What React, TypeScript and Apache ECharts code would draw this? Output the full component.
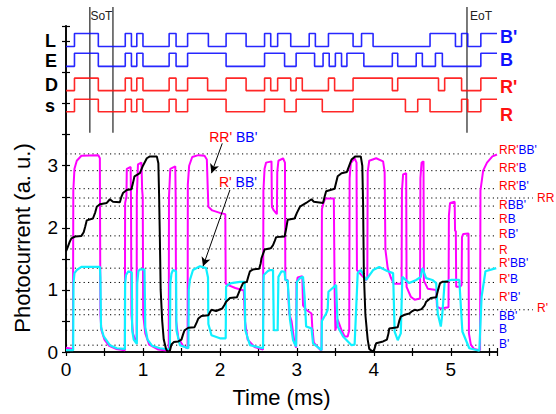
import React, { useEffect, useRef } from "react";
import * as echarts from "echarts";

const FONT = "'Liberation Sans', Arial, Helvetica, sans-serif";

const X_MIN = 0;
const X_MAX = 5.6;
const Y_MIN = 0;
const Y_MAX = 5.25;
const timeTickLabels = [0, 1, 2, 3, 4, 5];
const photoTickLabels = [0, 1, 2, 3];

// LED drive signals (top panel): toggle times in ms, each trace starts low
const ledNames = ["B'", "B", "R'", "R"];
const ledLetters = ["L", "E", "D", "s"];
const ledLow = [4.92, 4.6, 4.21, 3.87];
const ledHigh = [5.13, 4.81, 4.41, 4.07];
const ledColors = ["#1010ff", "#1010ff", "#ff1010", "#ff1010"];
const edgesBprime = [0.11, 0.42, 0.77, 0.85, 0.92, 1.0, 1.34, 1.43, 1.58, 1.85, 2.08, 2.34, 2.58, 2.66, 2.75, 2.92, 3.16, 3.24, 3.41, 3.73, 3.84, 3.99, 4.73, 5.06, 5.14, 5.22, 5.39];
const edgesB = [0.11, 0.42, 0.77, 0.85, 0.92, 1.0, 1.34, 1.43, 1.58, 2.08, 2.58, 2.84, 2.99, 3.23, 3.34, 3.42, 3.5, 3.58, 3.65, 3.87, 4.24, 4.31, 4.55, 4.63, 4.8, 4.89, 5.39];
const edgesRprime = [0.11, 0.42, 0.77, 0.85, 0.92, 1.0, 1.34, 1.43, 1.58, 1.84, 2.08, 2.34, 2.58, 2.66, 2.75, 2.92, 2.99, 3.07, 3.41, 3.49, 3.73, 4.24, 4.31, 4.84, 4.92, 5.14, 5.39];
const edgesR = [0.11, 0.42, 0.77, 0.85, 0.92, 1.0, 1.34, 1.43, 1.58, 2.08, 2.58, 2.84, 2.99, 3.33, 3.73, 4.41, 4.57, 4.73, 5.14, 5.22, 5.39];
const ledEdges = [edgesBprime, edgesB, edgesRprime, edgesR];

// start / end of transmission markers
const sotTimes = [0.31, 0.61];
const eotTimes = [5.21];

// photocurrent levels (dotted guide lines) and their names
const levelNames = ["RR'BB'", "RR'B", "RR'B'", "RR", "RBB'", "RB", "RB'", "R", "R'BB'", "R'B", "R'B'", "R'", "BB'", "B", "B'"];
const levelValues = [3.19, 2.92, 2.63, 2.48, 2.35, 2.15, 1.87, 1.66, 1.35, 1.12, 0.85, 0.68, 0.6, 0.35, 0.11];
const extendedLevels = ["RR", "R'"];

// photocurrent traces [time ms, a.u.]
const magentaTrace = [
  [0, 0.07], [0.09, 0.05], [0.095, 2.6], [0.11, 2.95], [0.14, 3.08], [0.2, 3.16], [0.42, 3.17], [0.44, 3.12], [0.447, 0.6], [0.46, 0.35], [0.5, 0.2], [0.56, 0.1], [0.65, 0.05], [0.765, 0.03],
  [0.768, 2.4], [0.785, 2.5], [0.79, 2.95], [0.84, 2.98], [0.845, 2.4], [0.85, 0.6], [0.87, 0.3], [0.91, 0.15], [0.918, 0.2], [0.92, 2.5], [0.935, 3.02], [0.98, 3.05], [0.99, 2.6], [0.997, 2.5], [1.003, 0.6], [1.03, 0.3], [1.08, 0.12], [1.2, 0.04], [1.335, 0.02],
  [1.338, 2.5], [1.355, 2.95], [1.42, 2.99], [1.425, 2.5], [1.43, 0.5], [1.46, 0.22], [1.52, 0.1], [1.58, 0.06],
  [1.583, 2.7], [1.6, 3.0], [1.64, 3.14], [1.72, 3.17], [1.8, 3.16], [1.83, 3.1], [1.84, 2.7], [1.85, 2.34], [1.9, 2.28], [2.0, 2.24], [2.07, 2.22], [2.075, 1.1], [2.1, 1.08], [2.2, 1.03], [2.31, 0.99], [2.325, 0.5], [2.36, 0.2], [2.45, 0.08], [2.56, 0.04],
  [2.565, 2.6], [2.58, 2.95], [2.6, 3.05], [2.67, 3.07], [2.675, 2.34], [2.7, 2.28], [2.74, 2.22], [2.745, 2.9], [2.76, 3.08], [2.82, 3.12], [2.845, 3.05], [2.85, 1.16], [2.88, 1.16], [2.9, 0.62], [2.93, 0.5], [2.97, 0.14], [2.99, 0.07],
  [2.995, 1.1], [3.01, 1.2], [3.07, 1.22], [3.08, 0.75], [3.12, 0.68], [3.19, 0.62], [3.2, 0.4], [3.22, 0.15], [3.3, 0.04], [3.32, 0.03],
  [3.325, 2.3], [3.35, 2.42], [3.37, 2.47], [3.48, 2.47], [3.49, 1.0], [3.5, 0.35], [3.53, 0.52], [3.58, 0.35], [3.62, 0.25], [3.66, 0.25], [3.68, 0.35],
  [3.685, 2.8], [3.7, 3.04], [3.75, 3.12], [3.775, 3.05], [3.78, 1.32], [3.83, 1.25], [3.9, 1.16], [3.915, 1.2],
  [3.92, 2.9], [3.94, 3.08], [4.03, 3.12], [4.12, 3.07], [4.14, 2.9], [4.15, 1.65], [4.18, 1.35], [4.22, 1.2], [4.26, 1.1], [4.36, 1.1],
  [4.365, 2.6], [4.38, 2.86], [4.42, 2.88], [4.425, 1.05], [4.48, 0.89], [4.53, 0.84], [4.6, 0.86],
  [4.605, 2.8], [4.62, 3.05], [4.645, 3.07], [4.65, 1.15], [4.7, 1.02], [4.81, 1.0], [4.82, 0.73], [4.87, 0.7], [4.97, 0.72],
  [4.975, 2.2], [4.99, 2.4], [5.05, 2.42], [5.055, 1.95], [5.065, 1.95], [5.07, 1.05], [5.12, 1.05], [5.14, 1.08],
  [5.145, 1.85], [5.16, 1.9], [5.23, 1.91], [5.235, 0.3], [5.26, 0.12], [5.3, 0.05], [5.38, 0.03],
  [5.385, 2.6], [5.42, 2.92], [5.47, 3.05], [5.54, 3.15], [5.6, 3.18],
];

const cyanTrace = [
  [0, 0.03], [0.093, 0.03], [0.097, 1.1], [0.11, 1.27], [0.14, 1.32], [0.2, 1.37], [0.44, 1.37], [0.447, 1.2], [0.455, 0.4], [0.49, 0.25], [0.57, 0.11], [0.66, 0.06], [0.765, 0.05],
  [0.768, 1.1], [0.78, 1.24], [0.81, 1.3], [0.855, 1.28], [0.86, 0.35], [0.88, 0.2], [0.92, 0.13], [0.925, 1.1], [0.94, 1.3], [0.96, 1.33], [1.02, 1.33], [1.03, 0.4], [1.06, 0.2], [1.12, 0.1], [1.22, 0.06], [1.35, 0.04],
  [1.355, 1.1], [1.37, 1.26], [1.39, 1.32], [1.43, 1.3], [1.435, 0.35], [1.48, 0.11], [1.59, 0.06],
  [1.595, 1.0], [1.61, 1.16], [1.65, 1.32], [1.74, 1.38], [1.82, 1.35], [1.845, 1.2], [1.85, 0.45], [1.89, 0.27], [2.0, 0.22], [2.075, 0.22],
  [2.08, 1.05], [2.1, 1.08], [2.15, 1.11], [2.26, 1.13], [2.32, 1.13], [2.33, 0.35], [2.39, 0.11], [2.56, 0.06],
  [2.565, 1.1], [2.57, 1.24], [2.62, 1.3], [2.65, 1.32], [2.69, 1.32], [2.7, 0.35], [2.75, 0.35], [2.76, 1.21], [2.8, 1.3], [2.84, 1.29], [2.85, 1.16], [2.88, 1.15], [2.91, 0.52], [2.95, 0.19], [2.99, 0.09],
  [3.0, 1.13], [3.04, 1.19], [3.08, 1.21], [3.1, 0.89], [3.12, 0.41], [3.19, 0.38], [3.21, 0.14], [3.32, 0.03],
  [3.325, 0.5], [3.38, 0.62], [3.4, 0.68], [3.41, 0.97], [3.51, 1.08], [3.53, 0.41], [3.6, 0.25], [3.71, 0.11], [3.75, 0.12],
  [3.79, 1.27], [3.83, 1.32], [3.9, 1.16], [3.99, 1.32], [4.07, 1.37], [4.18, 1.3], [4.25, 1.27], [4.27, 0.33], [4.31, 0.19], [4.35, 0.3], [4.37, 1.21], [4.46, 1.11], [4.55, 1.16], [4.61, 1.21], [4.63, 1.35], [4.68, 1.19], [4.76, 1.16], [4.81, 1.11], [4.83, 0.62], [4.87, 0.41], [4.89, 0.62], [4.92, 1.13], [5.0, 1.16], [5.11, 1.16], [5.15, 0.33], [5.24, 0.06], [5.37, 0.02], [5.4, 0.89], [5.45, 1.3], [5.59, 1.35],
];

const blackTrace = [
  [0.0, 1.62], [0.02, 1.68], [0.05, 1.78], [0.07, 1.83], [0.12, 1.86], [0.2, 1.87], [0.23, 1.93], [0.25, 2.02], [0.27, 2.12], [0.35, 2.15], [0.38, 2.25], [0.4, 2.34], [0.44, 2.38], [0.53, 2.4], [0.57, 2.46], [0.61, 2.42], [0.7, 2.41], [0.72, 2.5], [0.74, 2.56], [0.79, 2.61], [0.85, 2.62], [0.87, 2.72], [0.89, 2.83], [0.96, 2.88], [1.0, 3.0], [1.05, 3.12], [1.09, 3.15], [1.18, 3.15], [1.2, 3.04], [1.21, 2.5], [1.22, 1.8], [1.23, 1.0], [1.25, 0.5], [1.27, 0.2], [1.3, 0.05], [1.32, 0.0],
  [1.35, 0.02], [1.37, 0.12], [1.4, 0.16], [1.46, 0.17], [1.5, 0.2], [1.52, 0.28], [1.54, 0.35], [1.59, 0.39], [1.67, 0.4], [1.7, 0.48], [1.72, 0.54], [1.76, 0.58], [1.85, 0.59], [1.87, 0.64], [1.89, 0.68], [1.95, 0.66], [2.03, 0.7], [2.06, 0.76], [2.08, 0.81], [2.13, 0.87], [2.22, 0.88], [2.24, 0.94], [2.26, 1.0], [2.3, 1.11], [2.35, 1.13], [2.37, 1.22], [2.39, 1.3], [2.43, 1.33], [2.51, 1.34], [2.53, 1.43], [2.54, 1.51], [2.58, 1.65], [2.66, 1.67], [2.69, 1.72], [2.71, 1.78], [2.73, 1.85], [2.84, 1.86], [2.86, 1.98], [2.88, 2.13], [2.97, 2.15], [3.0, 2.24], [3.04, 2.34], [3.12, 2.4], [3.19, 2.46], [3.22, 2.42], [3.34, 2.4], [3.36, 2.5], [3.38, 2.59], [3.49, 2.63], [3.51, 2.73], [3.53, 2.83], [3.58, 2.88], [3.65, 2.9], [3.68, 3.0], [3.71, 3.1], [3.76, 3.15], [3.83, 3.15], [3.85, 3.0], [3.86, 2.4], [3.87, 1.27], [3.89, 0.6], [3.92, 0.2], [3.94, 0.05], [3.99, 0.0],
  [4.01, 0.06], [4.03, 0.14], [4.12, 0.17], [4.17, 0.2], [4.19, 0.3], [4.2, 0.38], [4.31, 0.4], [4.33, 0.5], [4.35, 0.57], [4.4, 0.6], [4.46, 0.62], [4.5, 0.66], [4.53, 0.68], [4.57, 0.67], [4.62, 0.69], [4.66, 0.75], [4.68, 0.81], [4.74, 0.87], [4.81, 0.88], [4.83, 0.98], [4.86, 1.11], [4.89, 1.13], [4.97, 1.13],
];

// annotation arrows: [from, to] in data coordinates
const arrowRRBB = [[2.03, 3.36], [1.89, 2.88]];
const arrowRBB = [[2.13, 2.61], [1.78, 1.38]];

// small vertical nudges (px) of the level labels relative to their guide lines
const levelLabelNudge = [-3.5, -3, -3, 0, -1, 1, -2, 1, -5, -3.5, -2, -2, 1, -1.5, -1.5];
const ledLabelNudge = [-3, 0, 3, 10];

function stepData(edges: number[], low: number, high: number) {
  const d: number[][] = [[X_MIN, low]];
  let on = false;
  for (const t of edges) {
    on = !on;
    d.push([t, on ? high : low]);
  }
  d.push([X_MAX, on ? high : low]);
  return d;
}

function richLevel(name: string) {
  const i = name.indexOf("B");
  const r = i < 0 ? name : name.slice(0, i);
  const b = i < 0 ? "" : name.slice(i);
  return (r ? `{r|${r}}` : "") + (b ? `{b|${b}}` : "");
}

export default function App() {
  const ref = useRef<HTMLDivElement>(null);
  useEffect(() => {
    if (!ref.current) return;
    const chart = echarts.init(ref.current, null, { renderer: "svg" });

    const axisLine = { show: true, lineStyle: { color: "#000", width: 1.5 } };
    const tick = { show: true, inside: true, length: 4, lineStyle: { color: "#000", width: 1.2 } };

    const series: any[] = [];
    levelValues.forEach((v, i) => {
      series.push({
        type: "line",
        name: "lvl" + levelNames[i],
        data: [[X_MIN, v], [X_MAX, v]],
        symbol: "none",
        silent: true,
        z: 1,
        lineStyle: { color: "#000", width: 1, type: [1.2, 3.2] },
      });
    });
    ledEdges.forEach((edges, i) => {
      series.push({
        type: "line",
        name: ledNames[i],
        data: stepData(edges, ledLow[i], ledHigh[i]),
        step: "end",
        symbol: "none",
        z: 3,
        lineStyle: { color: ledColors[i], width: 1.6, opacity: 0.9 },
      });
    });
    series.push({
      type: "line",
      name: "magenta",
      data: magentaTrace,
      symbol: "none",
      z: 4,
      lineStyle: { color: "#ff00ff", width: 2 },
    });
    series.push({
      type: "line",
      name: "cyan",
      data: cyanTrace,
      symbol: "none",
      z: 5,
      lineStyle: { color: "#10f0ff", width: 2.2 },
    });
    series.push({
      type: "line",
      name: "black",
      data: blackTrace,
      symbol: "none",
      z: 6,
      lineStyle: { color: "#000", width: 2 },
      markLine: {
        silent: true,
        symbol: ["none", "arrow"],
        symbolSize: [7, 9],
        label: { show: false },
        lineStyle: { color: "#000", width: 1, type: "solid" },
        data: [
          [{ coord: arrowRRBB[0] }, { coord: arrowRRBB[1] }],
          [{ coord: arrowRBB[0] }, { coord: arrowRBB[1] }],
        ],
      },
    });

    chart.setOption({
      animation: false,
      backgroundColor: "#fff",
      grid: { left: 66, right: 59, top: 26, bottom: 62, containLabel: false },
      xAxis: [
        {
          type: "value", min: X_MIN, max: X_MAX, interval: 0.5, position: "bottom",
          axisLine, axisTick: tick, splitLine: { show: false },
          name: "Time (ms)", nameLocation: "middle", nameGap: 34,
          nameTextStyle: { fontSize: 22, fontFamily: FONT, color: "#000" },
          axisLabel: {
            margin: 8, fontSize: 19, fontFamily: FONT, color: "#000",
            formatter: (v: number) => (timeTickLabels.includes(v) ? String(v) : ""),
          },
        },
        {
          type: "value", min: X_MIN, max: X_MAX, interval: 0.5, position: "top",
          axisLine, axisTick: tick, axisLabel: { show: false }, splitLine: { show: false },
        },
      ],
      yAxis: [
        {
          type: "value", min: Y_MIN, max: Y_MAX, interval: 0.5, position: "left",
          axisLine: { show: true, lineStyle: { color: "#333", width: 2 } }, axisTick: tick, splitLine: { show: false },
          axisLabel: {
            margin: 8, fontSize: 19, fontFamily: FONT, color: "#000",
            formatter: (v: number) => (photoTickLabels.includes(v) ? String(v) : ""),
          },
        },
        {
          type: "value", min: Y_MIN, max: Y_MAX, interval: 0.5, position: "right",
          axisLine, axisTick: tick, axisLabel: { show: false }, splitLine: { show: false },
        },
      ],
      series,
    });

    const P = (x: number, y: number) => chart.convertToPixel({ seriesIndex: 0 }, [x, y]) as number[];
    const graphic: any[] = [];
    const LFS = 12;
    const rich = {
      r: { fill: "#ff0000", fontSize: LFS, fontFamily: FONT },
      b: { fill: "#0000ff", fontSize: LFS, fontFamily: FONT },
    };
    const right = P(X_MAX, 0)[0];

    levelNames.forEach((nm, i) => {
      const py = P(X_MAX, levelValues[i])[1];
      const ext = extendedLevels.includes(nm);
      if (ext) {
        graphic.push({
          type: "line", silent: true,
          shape: { x1: right, y1: py, x2: right + 36, y2: py },
          style: { stroke: "#000", lineWidth: 1, lineDash: [1.2, 3.2] },
        });
      }
      graphic.push({
        type: "text", silent: true,
        x: ext ? right + 40 : right + 2, y: py + levelLabelNudge[i],
        style: { text: richLevel(nm), rich, textVerticalAlign: "middle", verticalAlign: "middle", fontSize: LFS, fontFamily: FONT },
      });
    });

    // LED row labels
    ledLetters.forEach((l, i) => {
      const py = P(X_MIN, (ledLow[i] + ledHigh[i]) / 2)[1];
      graphic.push({
        type: "text", silent: true, x: 45, y: py + 1,
        style: { text: l, fontSize: 18, fontWeight: "bold", fontFamily: FONT, fill: "#000", verticalAlign: "middle", textVerticalAlign: "middle" },
      });
      graphic.push({
        type: "text", silent: true, x: right + 3, y: py + ledLabelNudge[i],
        style: { text: ledNames[i], fontSize: 18, fontWeight: "bold", fontFamily: FONT, fill: ledColors[i], verticalAlign: "middle", textVerticalAlign: "middle" },
      });
    });

    // SoT / EoT markers
    const markTop = 7;
    const markBottom = P(0, 3.53)[1];
    [...sotTimes, ...eotTimes].forEach((t) => {
      const px = P(t, 0)[0];
      graphic.push({
        type: "line", silent: true,
        shape: { x1: px, y1: markTop, x2: px, y2: markBottom },
        style: { stroke: "#222", lineWidth: 1.2 },
      });
    });
    const s0 = P(sotTimes[0], 0)[0];
    const s1 = P(sotTimes[1], 0)[0];
    graphic.push({
      type: "text", silent: true, x: (s0 + s1) / 2, y: 16,
      style: { text: "SoT", fontSize: 12, fontFamily: FONT, fill: "#222", align: "center", textAlign: "center", verticalAlign: "middle", textVerticalAlign: "middle" },
    });
    const e0 = P(eotTimes[0], 0)[0];
    graphic.push({
      type: "text", silent: true, x: e0 + 3, y: 16,
      style: { text: "EoT", fontSize: 12, fontFamily: FONT, fill: "#222", verticalAlign: "middle", textVerticalAlign: "middle" },
    });

    // annotation texts near arrows
    const annRich = { r: { fill: "#ff0000", fontSize: 14, fontFamily: FONT }, b: { fill: "#0000ff", fontSize: 14, fontFamily: FONT } };
    const a1 = P(arrowRRBB[0][0], arrowRRBB[0][1]);
    graphic.push({
      type: "text", silent: true, x: a1[0] - 13, y: a1[1] - 6,
      style: { text: "{r|RR'} {b|BB'}", rich: annRich, verticalAlign: "middle", textVerticalAlign: "middle", fontSize: 14, fontFamily: FONT },
    });
    const a2 = P(arrowRBB[0][0], arrowRBB[0][1]);
    graphic.push({
      type: "text", silent: true, x: a2[0] - 11, y: a2[1] - 8,
      style: { text: "{r|R'} {b|BB'}", rich: annRich, verticalAlign: "middle", textVerticalAlign: "middle", fontSize: 14, fontFamily: FONT },
    });

    // y-axis title
    graphic.push({
      type: "text", silent: true, x: 22, y: 238, rotation: Math.PI / 2,
      style: { text: "Photocurrent (a. u.)", fontSize: 22, fontFamily: FONT, fill: "#000", align: "center", textAlign: "center", verticalAlign: "middle", textVerticalAlign: "middle" },
    });

    chart.setOption({ graphic });

    return () => chart.dispose();
  }, []);

  return (
    <div
      ref={ref}
      style={{ position: "fixed", left: 0, top: 0, width: 556, height: 414, background: "#fff" }}
    />
  );
}
